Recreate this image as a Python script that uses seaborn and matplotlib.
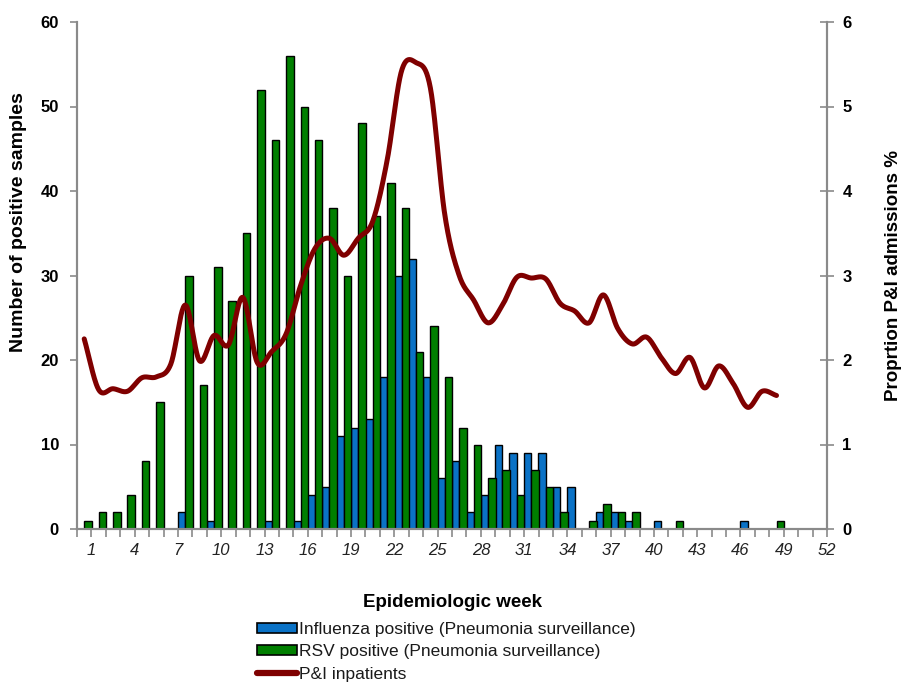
import numpy as np
import pandas as pd
import matplotlib
matplotlib.use("Agg")
import matplotlib.pyplot as plt
import seaborn as sns
from matplotlib.patches import Patch
from matplotlib.lines import Line2D
from matplotlib.transforms import ScaledTranslation

# ---- data -------------------------------------------------------------
weeks = list(range(1, 53))

influenza_pos = [0, 0, 0, 0, 0, 0, 0, 2, 0, 1,
                 0, 0, 0, 1, 0, 1, 4, 5, 11, 12,
                 13, 18, 30, 32, 18, 6, 8, 2, 4, 10,
                 9, 9, 9, 5, 5, 0, 2, 2, 1, 0,
                 1, 0, 0, 0, 0, 0, 1, 0, 0, 0,
                 0, 0]

rsv_pos = [1, 2, 2, 4, 8, 15, 0, 30, 17, 31,
           27, 35, 52, 46, 56, 50, 46, 38, 30, 48,
           37, 41, 38, 21, 24, 18, 12, 10, 6, 7,
           4, 7, 5, 2, 0, 1, 3, 2, 2, 0,
           0, 1, 0, 0, 0, 0, 0, 0, 1, 0,
           0, 0]

# P&I share of admissions (%), weeks 1-49
pi_weeks = list(range(1, 50))
pi_pct = [2.25, 1.65, 1.66, 1.63, 1.79, 1.80, 1.95, 2.65, 1.99, 2.29,
          2.18, 2.74, 1.97, 2.10, 2.31, 2.88, 3.32, 3.44, 3.24, 3.44,
          3.64, 4.36, 5.42, 5.52, 5.22, 3.72, 3.00, 2.71, 2.44, 2.65,
          2.98, 2.97, 2.96, 2.67, 2.58, 2.44, 2.77, 2.37, 2.19, 2.27,
          2.03, 1.84, 2.03, 1.67, 1.93, 1.72, 1.44, 1.63, 1.58]

tick_weeks = list(range(1, 53, 3))

series_names = ["Influenza positive (Pneumonia surveillance)",
                "RSV positive (Pneumonia surveillance)"]
line_name = "P&I inpatients"

BLUE = "#0a72c6"
GREEN = "#007f00"
MAROON = "#7f0000"
AXIS_GREY = "#8a8a8a"


def smooth_curve(x, y, per_seg=24):
    """Cardinal (Catmull-Rom) smoothing through the given points."""
    x = np.asarray(x, float)
    y = np.asarray(y, float)
    m = np.empty_like(y)
    m[1:-1] = (y[2:] - y[:-2]) / 2.0
    m[0] = y[1] - y[0]
    m[-1] = y[-1] - y[-2]
    xs, ys = [], []
    for i in range(len(x) - 1):
        t = np.linspace(0, 1, per_seg, endpoint=False)
        h00 = 2 * t**3 - 3 * t**2 + 1
        h10 = t**3 - 2 * t**2 + t
        h01 = -2 * t**3 + 3 * t**2
        h11 = t**3 - t**2
        xs.append(x[i] + t * (x[i + 1] - x[i]))
        ys.append(h00 * y[i] + h10 * m[i] + h01 * y[i + 1] + h11 * m[i + 1])
    xs.append([x[-1]])
    ys.append([y[-1]])
    return np.concatenate(xs), np.concatenate(ys)


# ---- long table for the bars -------------------------------------------
bars = pd.DataFrame({
    "week": weeks * 2,
    "count": influenza_pos + rsv_pos,
    "series": [series_names[0]] * len(weeks) + [series_names[1]] * len(weeks),
})
bars = bars[bars["count"] > 0]

sns.set_theme(style="white")
plt.rcParams["font.family"] = ["Liberation Sans", "DejaVu Sans"]

fig = plt.figure(figsize=(9.05, 6.84), dpi=100)
ax = fig.add_axes([77 / 905, 155 / 684, 750 / 905, 507 / 684])

sns.barplot(data=bars, x="week", y="count", hue="series",
            order=weeks, hue_order=series_names,
            palette=[BLUE, GREEN], width=1.04, gap=0,
            edgecolor="black", linewidth=1.0, saturation=1,
            legend=False, ax=ax)

ax.set_xlim(-0.5, len(weeks) - 0.5)
ax.set_ylim(0, 60)
ax.set_yticks(np.arange(0, 61, 10))
ax.set_yticklabels([str(v) for v in range(0, 61, 10)],
                   fontsize=12, fontweight="bold", color="black")

# tick marks on category boundaries, labels every third week
bounds = np.arange(-0.5, len(weeks), 1.0)
ax.set_xticks(bounds)
lbls = []
for b in bounds:
    wk = int(b + 0.5)
    lbls.append(str(wk) if wk in tick_weeks else "")
ax.set_xticklabels(lbls, fontsize=12, fontstyle="italic", color="#222222")
shift = ScaledTranslation(3 / 72, 0, fig.dpi_scale_trans)
for t in ax.get_xticklabels():
    t.set_transform(t.get_transform() + shift)

ax.tick_params(axis="x", direction="out", length=6, width=1.2,
               color=AXIS_GREY, pad=4, bottom=True)
ax.tick_params(axis="y", direction="out", length=5, width=1.2,
               color=AXIS_GREY, pad=8, left=True)

ax.set_xlabel("Epidemiologic week", fontsize=13.5, fontweight="bold",
              labelpad=26, color="black")
ax.set_ylabel("Number of positive samples", fontsize=14,
              fontweight="bold", color="black")
ax.yaxis.set_label_coords(-0.066, 0.605)

for side in ["left", "bottom", "right"]:
    ax.spines[side].set_color(AXIS_GREY)
    ax.spines[side].set_linewidth(1.5)
ax.spines["top"].set_visible(False)
ax.grid(False)

# ---- P&I line on the secondary axis ------------------------------------
ax2 = ax.twinx()
sx, sy = smooth_curve([w - 1 for w in pi_weeks], pi_pct)
ax2.plot(sx, sy, color=MAROON, linewidth=3.6, solid_capstyle="round",
         solid_joinstyle="round")
ax2.set_ylim(0, 6)
ax2.set_xlim(-0.5, len(weeks) - 0.5)
ax2.set_yticks(np.arange(0, 7, 1))
ax2.set_yticklabels([str(v) for v in range(0, 7)], fontsize=12,
                    fontweight="bold", color="black")
ax2.tick_params(axis="y", direction="inout", length=10, width=1.2,
                color=AXIS_GREY, pad=6, right=True)
ax2.set_ylabel("Proprtion P&I admissions %", fontsize=13.5,
               fontweight="bold", color="black")
ax2.yaxis.set_label_coords(1.077, 0.50)
for side in ["left", "bottom", "right"]:
    ax2.spines[side].set_color(AXIS_GREY)
    ax2.spines[side].set_linewidth(1.5)
ax2.spines["top"].set_visible(False)
ax2.grid(False)

# ---- legend below the plot ----------------------------------------------
handles = [Patch(facecolor=BLUE, edgecolor="black", linewidth=1.2),
           Patch(facecolor=GREEN, edgecolor="black", linewidth=1.2),
           Line2D([0], [0], color=MAROON, linewidth=4.5)]
fig.legend(handles, series_names + [line_name],
           loc="upper left", bbox_to_anchor=(257 / 905, 1 - 622 / 684),
           frameon=False, fontsize=12.5, handlelength=2.3, handleheight=0.55,
           handletextpad=0.12, labelspacing=0.42, borderaxespad=0,
           borderpad=0, labelcolor="#1a1a1a")

fig.savefig("out.png", dpi=100)
